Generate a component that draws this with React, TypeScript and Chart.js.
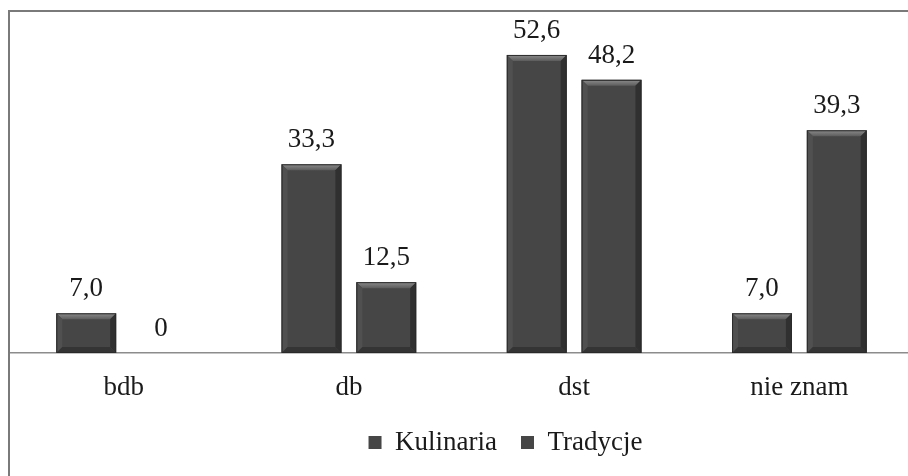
import React, { useEffect, useRef } from "react";
import { Chart, registerables } from "chart.js";

Chart.register(...registerables);

const categories = ["bdb", "db", "dst", "nie znam"];
const kulinaria = [7.0, 33.3, 52.6, 7.0];
const tradycje = [0, 12.5, 48.2, 39.3];
const seriesNames = ["Kulinaria", "Tradycje"];

const FONT = "'Liberation Serif', 'Times New Roman', serif";
const FONT_SIZE = 27;

const fmt = (v: number) => (v === 0 ? "0" : v.toFixed(1).replace(".", ","));

const bevelPlugin = {
  id: "bevel",
  afterDatasetsDraw(chart: any) {
    const ctx = chart.ctx;
    chart.data.datasets.forEach((_: any, di: number) => {
      const meta = chart.getDatasetMeta(di);
      meta.data.forEach((bar: any) => {
        const { x, y, base, width } = bar.getProps(["x", "y", "base", "width"], true);
        const l = x - width / 2;
        const r = x + width / 2;
        const t = Math.min(y, base);
        const bt = Math.max(y, base);
        const h = bt - t;
        if (h < 1) return;
        const b = Math.min(6, h / 3);
        ctx.save();
        const g = ctx.createLinearGradient(0, t, 0, t + b);
        g.addColorStop(0, "#8c8c8c");
        g.addColorStop(1, "#5c5c5c");
        ctx.fillStyle = g;
        ctx.beginPath();
        ctx.moveTo(l, t);
        ctx.lineTo(r, t);
        ctx.lineTo(r - b, t + b);
        ctx.lineTo(l + b, t + b);
        ctx.closePath();
        ctx.fill();
        ctx.fillStyle = "#505050";
        ctx.beginPath();
        ctx.moveTo(l, t);
        ctx.lineTo(l + b, t + b);
        ctx.lineTo(l + b, bt - b);
        ctx.lineTo(l, bt);
        ctx.closePath();
        ctx.fill();
        ctx.fillStyle = "#303030";
        ctx.beginPath();
        ctx.moveTo(r, t);
        ctx.lineTo(r - b, t + b);
        ctx.lineTo(r - b, bt - b);
        ctx.lineTo(r, bt);
        ctx.closePath();
        ctx.fill();
        ctx.fillStyle = "#343434";
        ctx.beginPath();
        ctx.moveTo(l, bt);
        ctx.lineTo(l + b, bt - b);
        ctx.lineTo(r - b, bt - b);
        ctx.lineTo(r, bt);
        ctx.closePath();
        ctx.fill();
        ctx.strokeStyle = "#2a2a2a";
        ctx.lineWidth = 1;
        ctx.strokeRect(l + 0.5, t + 0.5, width - 1, h - 1);
        ctx.restore();
      });
    });
  },
};

const valueLabelPlugin = {
  id: "valueLabels",
  afterDatasetsDraw(chart: any) {
    const ctx = chart.ctx;
    ctx.save();
    ctx.font = `${FONT_SIZE}px ${FONT}`;
    ctx.fillStyle = "#1a1a1a";
    ctx.textAlign = "center";
    ctx.textBaseline = "alphabetic";
    chart.data.datasets.forEach((ds: any, di: number) => {
      const meta = chart.getDatasetMeta(di);
      meta.data.forEach((bar: any, i: number) => {
        const v = ds.data[i];
        const { x, y } = bar.getProps(["x", "y"], true);
        ctx.fillText(fmt(v), x, y - 17);
      });
    });
    ctx.restore();
  },
};

// Shift the legend to the right like the original (off-centre legend)
const legendShiftPlugin = {
  id: "legendShift",
  afterLayout(chart: any) {
    const lg = chart.legend;
    if (!lg) return;
    lg.left += 44;
    lg.right += 44;
  },
};

export default function App() {
  const ref = useRef<HTMLCanvasElement>(null);

  useEffect(() => {
    if (!ref.current) return;
    const chart = new Chart(ref.current, {
      type: "bar",
      data: {
        labels: categories,
        datasets: [
          {
            label: seriesNames[0],
            data: kulinaria,
            backgroundColor: "#464646",
            barPercentage: 0.8,
            categoryPercentage: 0.664,
          },
          {
            label: seriesNames[1],
            data: tradycje,
            backgroundColor: "#464646",
            barPercentage: 0.8,
            categoryPercentage: 0.664,
          },
        ],
      },
      options: {
        animation: false,
        responsive: false,
        devicePixelRatio: 1,
        layout: { padding: { left: 3, right: 0, top: 3, bottom: 10 } },
        plugins: {
          legend: {
            position: "bottom",
            labels: {
              font: { family: FONT, size: FONT_SIZE },
              color: "#1a1a1a",
              boxWidth: 13,
              boxHeight: 13,
              padding: 24,
            },
          },
          tooltip: { enabled: false },
        },
        scales: {
          x: {
            grid: { display: false },
            border: { display: true, color: "#8c8c8c", width: 1.5 },
            ticks: {
              font: { family: FONT, size: FONT_SIZE },
              color: "#1a1a1a",
              padding: 11,
            },
            afterFit: (scale: any) => {
              scale.height = 52;
            },
          },
          y: {
            display: false,
            min: 0,
            max: 60,
          },
        },
      },
      plugins: [bevelPlugin, valueLabelPlugin, legendShiftPlugin],
    });
    return () => chart.destroy();
  }, []);

  return (
    <div
      style={{
        position: "fixed",
        left: 0,
        top: 0,
        width: 908,
        height: 476,
        overflow: "hidden",
        background: "#fff",
      }}
    >
      <div
        style={{
          position: "absolute",
          left: 8,
          top: 10,
          width: 940,
          height: 500,
          borderTop: "2px solid #7a7a7a",
          borderLeft: "2px solid #7a7a7a",
        }}
      />
      <canvas
        ref={ref}
        width={904}
        height={466}
        style={{ position: "absolute", left: 8, top: 10, width: 904, height: 466 }}
      />
    </div>
  );
}
